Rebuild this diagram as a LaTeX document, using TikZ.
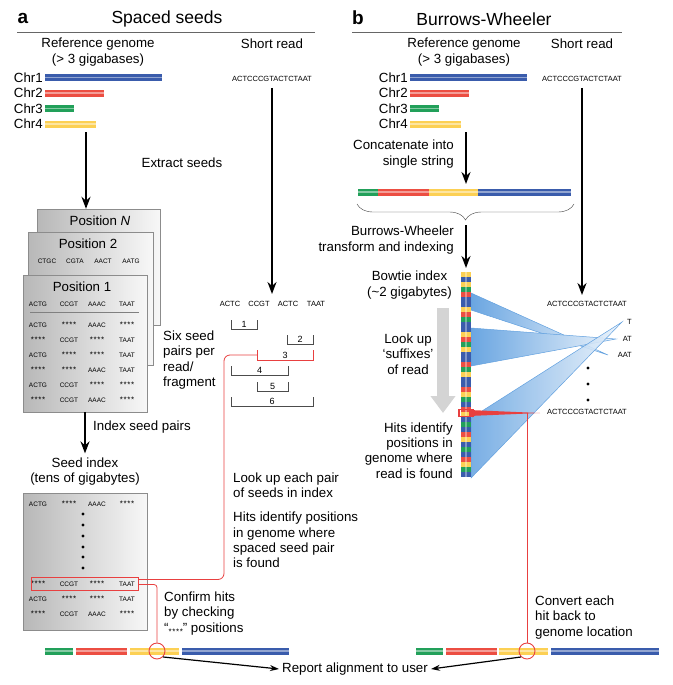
\documentclass[tikz,border=0pt]{standalone}
\usepackage{fontspec}
\setmainfont{Liberation Sans}
\usepackage{tikz}
\usetikzlibrary{arrows.meta, decorations.pathreplacing, positioning}

\definecolor{chrblue}{RGB}{58,92,172}
\definecolor{chrred}{RGB}{236,78,66}
\definecolor{chrgreen}{RGB}{34,160,90}
\definecolor{chryellow}{RGB}{252,208,84}
\definecolor{hitred}{RGB}{232,64,64}
\definecolor{fanblue}{RGB}{80,150,220}
\colorlet{bY}{chryellow}
\colorlet{bB}{chrblue}
\colorlet{bG}{chrgreen}
\colorlet{bR}{chrred}

\tikzstyle{arrow} = [line width=1.8pt,-{Stealth[length=12pt,width=9pt]}]
\tikzstyle{thinarrow} = [line width=1.2pt,-{Stealth[length=9pt,width=6pt]}]
\tikzstyle{lbl} = [font=\fontsize{13.3}{15.4}\selectfont, inner sep=0pt, align=center]
\tikzstyle{paneltitle} = [font=\fontsize{17.5}{18}\selectfont, inner sep=0pt]
\tikzstyle{paneltag} = [font=\fontsize{19}{19}\selectfont\bfseries, inner sep=0pt]
\tikzstyle{seq} = [font=\fontsize{6.5}{6.5}\selectfont, inner sep=0pt]
\tikzstyle{read} = [font=\fontsize{7.5}{8}\selectfont, inner sep=0pt]
\tikzstyle{num} = [font=\fontsize{9}{9}\selectfont, inner sep=0pt]
\tikzstyle{card} = [draw=black!45, left color=black!28, right color=black!3, inner sep=0pt]
\tikzstyle{redline} = [draw=hitred, line width=0.8pt]
\tikzstyle{hit} = [circle, draw=hitred, line width=0.9pt, minimum size=16pt, inner sep=0pt]
\tikzstyle{fan} = [left color=fanblue!85, right color=fanblue!12, draw=fanblue!90, line width=0.5pt]

% masked seed
\newcommand{\stars}{\raisebox{-1.8pt}{\fontsize{8}{8}\selectfont *\kern0.6pt*\kern0.6pt*\kern0.6pt*}}
% colour, from x, to x, y
\newcommand{\chrbar}[4]{%
  \draw[line width=7pt, #1] (#2,#4) -- (#3,#4);
  \draw[line width=1.5pt, white, opacity=0.45] (#2,#4) -- (#3,#4);}

\begin{document}
\begin{tikzpicture}[x=1pt,y=-1pt]
\useasboundingbox (0,0) rectangle (672,685);

% a: spaced seeds
\node[paneltag] (a-tag) at (23,18) {a};
\node[paneltitle] (a-title) at (167,19) {Spaced seeds};
\draw[black!60] (17,32) -- (315,32);
\node[lbl] (a-ref) at (98,52) {Reference genome\\(> 3 gigabases)};
\node[lbl] (a-short) at (272,44) {Short read};
\foreach \name/\len/\col [count=\i] in {Chr1/117/chrblue, Chr2/59/chrred, Chr3/29/chrgreen, Chr4/51/chryellow} {
  \pgfmathsetmacro\yy{62+15.5*\i}
  \node[lbl, anchor=east] (a-chr\i) at (43,\yy) {\name};
  \chrbar{\col}{45}{45+\len}{\yy}
}
\node[read] (a-read) at (272,79) {ACTCCCGTACTCTAAT};
\coordinate (a-split) at (86,132);
\node[lbl] (a-extract) at (182,163) {Extract seeds};

\node[card, minimum width=123pt, minimum height=116pt] (a-posN) at (98.5,267) {};
\node[lbl] (a-posNlbl) at (100,221) {Position \textit{N}};
\node[card, minimum width=125pt, minimum height=133pt] (a-pos2) at (90.5,298.5) {};
\node[lbl] (a-pos2lbl) at (88,244) {Position 2};
\foreach \w/\x in {CTGC/47, CGTA/75, AACT/103, AATG/131} \node[seq] at (\x,261) {\w};
\node[card, minimum width=124pt, minimum height=137pt] (a-pos1) at (85,343.5) {};
\node[lbl] (a-pos1lbl) at (82,287) {Position 1};
\draw[black!50] (30,312) -- (139,312);
\foreach \sa/\sb/\sc/\sd [count=\r from 0] in {ACTG/CCGT/AAAC/TAAT, ACTG/\stars/AAAC/\stars, \stars/CCGT/\stars/TAAT, ACTG/\stars/\stars/TAAT, \stars/\stars/AAAC/TAAT, ACTG/CCGT/\stars/\stars, \stars/CCGT/AAAC/\stars} {
  \pgfmathsetmacro\yy{\r==0 ? 304 : 310+15*\r}
  \node[seq] at (38,\yy) {\sa};
  \node[seq] at (69,\yy) {\sb};
  \node[seq] at (97,\yy) {\sc};
  \node[seq] at (127,\yy) {\sd};
}
\node[lbl, align=left, anchor=west] (a-six) at (163,360) {Six seed\\pairs per\\read/\\fragment};

% seeds of the read and the six pairs
\foreach \w/\x in {ACTC/230, CCGT/259, ACTC/288, TAAT/316} \node[read] at (\x,304) {\w};
\coordinate (a-seeds) at (272,294);
\foreach \n/\xa/\xb/\yb in {1/231/257/329, 2/287/313/344, 4/231/288/375, 5/257/288/391, 6/231/313/406} {
  \draw[black!70] (\xa,\yb-9) |- (\xb,\yb) -- (\xb,\yb-9);
  \node[num] at ({(\xa+\xb)/2},\yb-5) {\n};
}
\draw[redline] (257,350) |- (313,360) -- (313,350);
\node[num] (a-pair3lbl) at (285,355) {3};
\coordinate (a-pair3) at (257,355);

% seed index
\node[lbl, anchor=west] (a-indexing) at (93,427) {Index seed pairs};
\node[lbl] (a-idxtitle) at (85,471.5) {Seed index\\(tens of gigabytes)};
\node[card, minimum width=124pt, minimum height=137pt] (a-index) at (85,561.5) {};
\foreach \sa/\sb/\sc/\sd/\yy in {ACTG/\stars/AAAC/\stars/504, \stars/CCGT/\stars/TAAT/584, ACTG/\stars/\stars/TAAT/599, \stars/CCGT/AAAC/\stars/614} {
  \node[seq] at (38,\yy) {\sa};
  \node[seq] at (69,\yy) {\sb};
  \node[seq] at (97,\yy) {\sc};
  \node[seq] at (127,\yy) {\sd};
}
\foreach \yy in {514,525,536,547,557,568} \fill (83,\yy) circle (1.7pt);
\node[draw=hitred, line width=0.8pt, minimum width=107pt, minimum height=13pt] (a-hit) at (84.5,583.5) {};

\node[lbl, align=left, anchor=west] (a-lookup) at (233,485.5) {Look up each pair\\of seeds in index};
\node[lbl, align=left, anchor=west] (a-hits) at (233,540) {Hits identify positions\\in genome where\\spaced seed pair\\is found};
\node[lbl, align=left, anchor=west] (a-confirm) at (164,613.5) {Confirm hits\\by checking\\“{\fontsize{6}{6}\selectfont\stars}” positions};

% genome at the bottom, a
\chrbar{chrgreen}{45}{73}{651}
\chrbar{chrred}{76}{127}{651}
\chrbar{chryellow}{130}{179}{651}
\chrbar{chrblue}{182}{289}{651}
\node[hit] (a-circ) at (157,651) {};

\draw[arrow] (a-split) -- (a-split |- a-posN.north);
\draw[arrow] ([yshift=-6pt]a-read.south) -- (a-seeds);
\draw[arrow] (a-pos1.south) -- ([yshift=4pt]a-idxtitle.north);
\draw[redline, rounded corners=6pt] (a-pair3) -| (224,579.5) -- ([yshift=4pt]a-hit.east);
\draw[redline, rounded corners=3pt] ([yshift=-1pt]a-hit.east) -| (a-circ.north);

% b: Burrows-Wheeler
\node[paneltag] (b-tag) at (358,18) {b};
\node[paneltitle] (b-title) at (484,19) {Burrows-Wheeler};
\draw[black!60] (352,32) -- (622,32);
\node[lbl] (b-ref) at (464,52) {Reference genome\\(> 3 gigabases)};
\node[lbl] (b-short) at (582,44) {Short read};
\foreach \name/\len/\col [count=\i] in {Chr1/117/chrblue, Chr2/59/chrred, Chr3/29/chrgreen, Chr4/51/chryellow} {
  \pgfmathsetmacro\yy{62+15.5*\i}
  \node[lbl, anchor=east] (b-chr\i) at (408,\yy) {\name};
  \chrbar{\col}{410}{410+\len}{\yy}
}
\node[read] (b-read) at (582,79) {ACTCCCGTACTCTAAT};
\coordinate (b-split) at (466,132);
\coordinate (b-concat) at (466,184);
\node[lbl, align=right, anchor=east] (b-concatlbl) at (454,154) {Concatenate into\\single string};
\chrbar{chrgreen}{358}{378}{192}
\chrbar{chrred}{378}{429}{192}
\chrbar{chryellow}{429}{478}{192}
\chrbar{chrblue}{478}{571}{192}
\draw[black!75, decorate, decoration={brace, mirror, amplitude=16pt}] (357,204) -- (574,204);
\coordinate (b-brace) at (466,225);
\coordinate (b-bwt) at (466,268);
\node[lbl, align=right, anchor=east] (b-bwtlbl) at (454,240) {Burrows-Wheeler\\transform and indexing};

% bowtie index
\node[lbl, align=center, anchor=east] (b-bowtie) at (452,285) {Bowtie index\\(\textasciitilde 2 gigabytes)};
\draw[line width=12pt, black!17, -{Triangle[length=17pt,width=24pt]}] (443,308) -- (443,413);
\node[lbl] (b-lookup) at (408,354) {Look up\\‘suffixes’\\of read};
\node[lbl, align=right, anchor=east] (b-hits) at (453,450.5) {Hits identify\\positions in\\genome where\\read is found};

\draw[fan] (471,293) -- (608,355) -- (471,310) -- cycle;
\draw[fan] (471,328) -- (616,339) -- (471,366) -- cycle;
\draw[fan, fill opacity=0.9] (471,418) -- (622,322) -- (471,478) -- cycle;
\foreach \c [count=\i from 0] in {bY,bB,bY,bG,bR,bB,bB,bY,bR,bG,bB,bB,bY,bR,bG,bY,bB,bB,bR,bG,bY,bB,bB,bR,bY,bG,bB,bR,bY,bB,bG,bB,bR,bY,bB,bG,bB,bR,bY,bG,bB}
  \fill[\c] (461,272+5*\i) rectangle (471,277+5*\i);
\draw[white, opacity=0.35, line width=2pt] (466,272) -- (466,477);

\node[read] (b-read2) at (587,304) {ACTCCCGTACTCTAAT};
\coordinate (b-readtop) at (582,295);
\node[read, anchor=east] (b-t) at (632,322) {T};
\node[read, anchor=east] (b-at) at (632,339) {AT};
\node[read, anchor=east] (b-aat) at (632,355) {AAT};
\foreach \yy in {368,384,400} \fill (588,\yy) circle (1.7pt);
\node[read] (b-read3) at (587,412) {ACTCCCGTACTCTAAT};

\fill[hitred] (469,410) -- (540,413) -- (469,416) -- cycle;
\draw[hitred, line width=1.2pt] (459,409.5) rectangle (473,416.5);
\coordinate (b-hit) at (527,413);

% genome at the bottom, b
\node[lbl, align=left, anchor=west] (b-convert) at (535,617.5) {Convert each\\hit back to\\genome location};
\chrbar{chrgreen}{416}{443}{651}
\chrbar{chrred}{446}{497}{651}
\chrbar{chryellow}{499}{548}{651}
\chrbar{chrblue}{551}{659}{651}
\node[hit] (b-circ) at (527,651) {};

\draw[arrow] (b-split) -- (b-concat);
\draw[arrow] (b-brace) -- (b-bwt);
\draw[arrow] ([yshift=-6pt]b-read.south) -- (b-readtop);
\draw[redline] (b-hit) -- (b-circ.north);

\node[lbl] (report) at (355,669) {Report alignment to user};
\draw[thinarrow] (a-circ.south east) -- ([xshift=-3pt]report.west);
\draw[thinarrow] (b-circ.south west) -- ([xshift=3pt]report.east);
\end{tikzpicture}
\end{document}
